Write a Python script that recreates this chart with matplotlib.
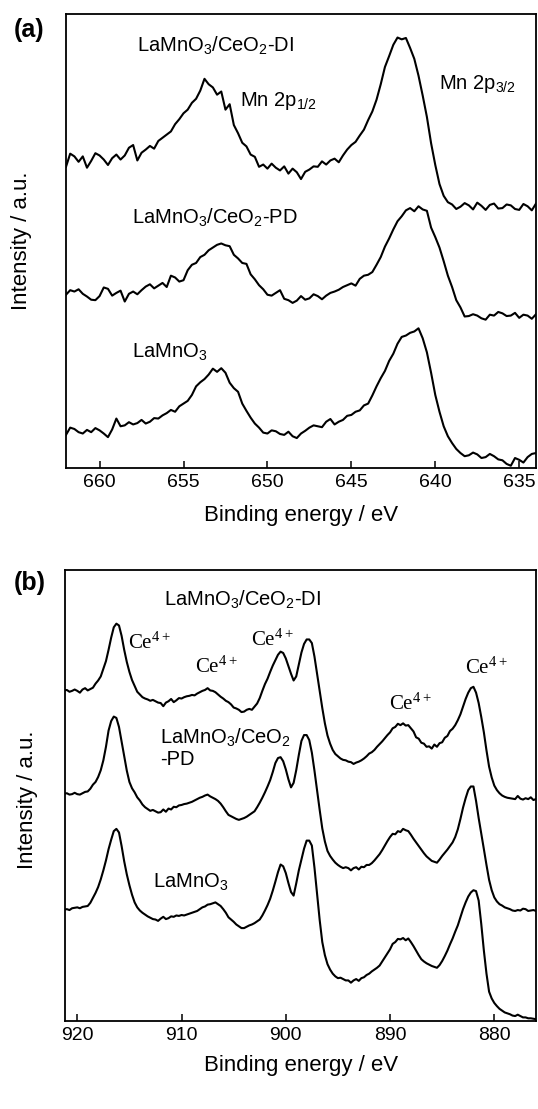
import numpy as np
import matplotlib
matplotlib.use("Agg")
import matplotlib.pyplot as plt

plt.rcParams['font.family'] = ['Liberation Sans', 'DejaVu Sans']

# ---- (a) Mn 2p region, 662 -> 634 eV, 0.25 eV step (one row = 2 eV) ----
mn_energy = np.arange(662.0, 633.99, -0.25)
mn_di = [66.4, 69.3, 68.7, 67.5, 68.7, 66.2, 67.7, 69.4,
         68.9, 68.0, 66.8, 68.3, 69.1, 68.0, 68.9, 70.6,
         71.2, 67.8, 69.5, 70.2, 71.0, 70.4, 72.1, 72.8,
         73.5, 74.2, 75.8, 76.9, 78.2, 79.0, 80.5, 81.4,
         83.2, 85.8, 84.6, 83.9, 82.3, 83.0, 79.0, 80.2,
         75.6, 73.8, 71.7, 70.9, 69.1, 68.6, 66.4, 66.9,
         66.0, 67.1, 66.2, 65.6, 66.5, 64.9, 66.0, 65.2,
         63.7, 65.3, 65.8, 66.5, 66.4, 67.6, 66.9, 67.8,
         68.2, 67.4, 68.9, 70.2, 71.2, 71.9, 73.3, 74.6,
         76.7, 78.6, 81.2, 84.6, 88.4, 90.8, 93.3, 94.9,
         94.5, 94.8, 92.6, 90.2, 86.5, 82.1, 77.4, 71.6,
         66.8, 62.6, 60.0, 58.6, 58.1, 57.1, 57.6, 58.4,
         57.9, 57.0, 58.5, 57.8, 56.9, 58.0, 58.3, 57.2,
         57.3, 58.1, 57.9, 57.1, 56.9, 58.2, 57.7, 56.8,
         58.3]
mn_pd = [38.2, 39.2, 38.9, 39.4, 38.4, 37.8, 37.1, 37.0,
         37.9, 39.8, 39.5, 38.0, 38.6, 39.1, 36.7, 38.4,
         38.9, 38.3, 39.2, 40.0, 40.5, 39.6, 40.2, 40.8,
         39.9, 42.4, 42.0, 41.1, 41.4, 43.6, 44.8, 45.2,
         46.5, 47.0, 48.0, 48.6, 49.2, 49.5, 49.1, 48.9,
         47.0, 46.2, 45.2, 45.0, 42.7, 41.6, 40.3, 39.4,
         38.2, 38.0, 38.6, 39.2, 37.3, 37.0, 36.4, 36.9,
         37.9, 37.1, 37.4, 38.3, 37.9, 37.2, 38.0, 38.6,
         38.9, 39.3, 39.9, 40.3, 40.7, 40.2, 41.7, 42.4,
         42.6, 43.2, 44.8, 46.5, 48.8, 50.6, 52.6, 54.4,
         55.5, 56.8, 57.3, 56.6, 57.7, 57.0, 56.7, 53.0,
         50.9, 48.6, 45.6, 42.4, 39.9, 37.0, 35.4, 33.4,
         33.5, 33.9, 33.6, 33.0, 32.7, 33.8, 33.6, 34.4,
         34.1, 33.5, 33.6, 34.2, 33.1, 33.8, 33.6, 32.9,
         33.9]
mn_lmo = [7.3, 8.9, 8.6, 7.9, 7.6, 8.4, 7.9, 8.8,
          8.3, 7.6, 6.8, 8.5, 10.9, 9.2, 9.4, 10.1,
          9.6, 9.9, 10.6, 9.8, 10.2, 11.0, 10.9, 11.6,
          12.1, 12.8, 12.4, 13.6, 14.2, 14.8, 16.1, 18.0,
          18.9, 19.6, 20.6, 21.9, 21.2, 22.0, 21.0, 18.8,
          17.6, 16.8, 14.2, 12.6, 11.1, 9.8, 8.9, 7.8,
          7.6, 8.3, 8.1, 7.5, 7.3, 8.0, 7.0, 6.6,
          7.6, 8.2, 8.9, 9.4, 9.2, 9.0, 10.2, 10.8,
          9.6, 10.2, 10.6, 11.5, 11.7, 12.4, 12.7, 13.8,
          14.2, 16.0, 18.0, 19.8, 21.4, 23.6, 25.2, 27.4,
          28.9, 29.2, 29.8, 30.1, 30.8, 28.6, 25.5, 21.0,
          16.1, 12.4, 9.2, 7.0, 5.5, 4.2, 3.3, 2.6,
          2.8, 3.4, 3.0, 2.2, 2.4, 3.1, 2.6, 1.9,
          1.7, 0.9, 0.5, 2.2, 1.8, 1.2, 2.4, 3.1,
          3.3]
mn_ticks = [660, 655, 650, 645, 640, 635]

# ---- (b) Ce 3d region, 921.25 -> 876 eV, 0.25 eV step ----
ce_energy = np.arange(921.25, 875.99, -0.25)
ce_di = [73.3, 73.4, 73.0, 73.2, 73.5,
         73.2, 72.8, 73.5, 73.8, 73.3, 73.6, 73.9, 74.8,
         75.5, 76.4, 78.1, 79.8, 82.3, 85.0, 87.3, 88.1,
         87.7, 85.4, 82.3, 79.6, 77.4, 75.6, 74.3, 73.0,
         72.4, 71.8, 71.5, 71.3, 71.0, 71.2, 70.9, 70.6,
         70.5, 69.8, 70.6, 70.9, 71.4, 70.7, 71.1, 71.6,
         71.5, 71.8, 72.0, 72.1, 72.3, 72.2, 72.6, 72.9,
         73.2, 73.4, 73.8, 73.3, 73.2, 72.9, 72.4, 71.9,
         71.5, 71.0, 70.7, 70.2, 69.5, 69.3, 69.0, 68.5,
         68.6, 69.0, 69.2, 69.0, 69.7, 70.4, 71.6, 73.2,
         74.7, 75.9, 77.4, 78.8, 80.0, 81.2, 81.9, 81.6,
         80.4, 78.7, 77.0, 75.5, 76.4, 79.0, 81.7, 83.6,
         84.6, 84.6, 83.8, 80.8, 77.0, 73.2, 69.4, 66.0,
         63.3, 61.5, 60.1, 59.2, 58.7, 58.2, 57.9, 57.8,
         57.5, 57.4, 57.0, 57.3, 57.5, 57.8, 58.2, 58.7,
         59.3, 59.6, 60.1, 60.8, 61.4, 62.0, 62.7, 63.4,
         64.0, 64.9, 65.2, 65.9, 65.6, 66.0, 65.5, 65.6,
         64.9, 64.2, 62.9, 62.6, 61.7, 61.5, 60.8, 60.9,
         60.4, 61.3, 60.8, 61.6, 61.8, 62.8, 63.2, 64.3,
         64.8, 65.6, 66.7, 68.0, 69.7, 71.4, 72.8, 73.8,
         74.1, 72.8, 70.5, 67.4, 64.0, 60.0, 56.4, 54.0,
         52.2, 51.2, 50.5, 50.0, 49.7, 49.5, 49.4, 49.3,
         49.2, 49.9, 49.3, 49.1, 49.4, 49.2, 49.6, 49.0,
         49.2]
ce_pd = [50.4, 50.5, 50.2, 50.3, 50.6,
         50.3, 50.2, 50.5, 50.8, 50.9, 51.5, 52.4, 53.0,
         54.1, 55.6, 57.8, 60.8, 64.4, 66.5, 67.5, 67.2,
         65.2, 62.0, 58.7, 55.5, 53.0, 51.6, 50.7, 49.6,
         48.9, 48.0, 47.4, 47.0, 46.6, 46.8, 46.5, 46.2,
         46.3, 46.9, 46.4, 47.1, 46.9, 47.5, 47.4, 47.8,
         47.9, 48.1, 48.2, 48.4, 48.6, 48.9, 49.2, 49.5,
         49.7, 50.0, 50.2, 49.8, 49.5, 49.2, 48.8, 48.2,
         47.4, 46.5, 45.7, 45.4, 45.1, 44.8, 44.6, 44.8,
         45.0, 45.3, 45.7, 46.1, 46.5, 47.4, 48.4, 49.5,
         50.7, 52.0, 53.4, 55.2, 57.2, 58.3, 58.5, 57.6,
         55.8, 53.6, 51.8, 52.8, 55.6, 59.0, 62.1, 63.4,
         63.4, 62.3, 59.5, 55.5, 51.1, 46.8, 42.7, 39.8,
         37.7, 36.6, 35.8, 35.1, 34.6, 34.2, 33.9, 34.1,
         33.9, 33.4, 33.9, 34.1, 33.6, 34.2, 34.1, 34.6,
         34.6, 35.0, 35.6, 36.3, 37.0, 37.9, 38.9, 39.9,
         40.8, 41.5, 41.4, 42.1, 41.9, 42.6, 42.3, 42.1,
         41.3, 40.4, 39.6, 38.8, 38.0, 37.2, 36.5, 36.0,
         35.5, 35.3, 35.1, 35.8, 36.6, 37.3, 38.0, 38.8,
         39.6, 40.8, 42.5, 44.8, 47.3, 49.4, 51.2, 52.0,
         52.0, 48.8, 45.0, 41.6, 38.1, 34.6, 31.3, 29.0,
         27.4, 26.5, 25.9, 25.6, 25.2, 25.0, 24.8, 24.5,
         24.4, 24.6, 24.5, 24.9, 24.8, 24.4, 24.5, 24.6,
         24.4]
ce_lmo = [24.7, 24.8, 24.6, 25.0, 25.1,
          25.2, 25.0, 25.3, 25.4, 25.5, 26.2, 27.3, 28.4,
          29.7, 31.4, 33.4, 35.6, 38.1, 40.2, 42.1, 42.6,
          41.8, 38.8, 35.4, 32.5, 30.1, 28.0, 26.3, 25.2,
          24.5, 24.0, 23.6, 23.2, 22.9, 22.6, 22.5, 22.2,
          22.7, 23.1, 22.6, 22.8, 23.2, 23.1, 23.4, 23.3,
          23.5, 23.4, 23.6, 23.8, 24.0, 24.2, 24.4, 24.8,
          25.2, 25.4, 25.8, 25.9, 26.1, 26.3, 25.9, 25.5,
          24.8, 24.0, 23.0, 22.5, 22.0, 21.4, 21.0, 20.6,
          20.6, 20.9, 21.2, 21.4, 21.7, 22.1, 22.5, 23.4,
          24.5, 25.7, 27.1, 28.9, 30.9, 33.0, 34.7, 34.3,
          32.8, 30.6, 28.6, 27.8, 30.5, 33.4, 35.8, 38.2,
          40.0, 40.0, 38.9, 34.0, 28.2, 22.4, 17.5, 14.6,
          12.6, 11.4, 10.5, 9.9, 9.5, 9.6, 9.3, 9.0,
          9.0, 8.5, 9.0, 9.3, 8.9, 9.5, 9.7, 10.2,
          10.5, 11.0, 11.4, 11.8, 12.3, 13.2, 14.1, 15.0,
          15.9, 17.1, 17.5, 18.2, 18.1, 18.4, 17.9, 18.3,
          17.5, 16.6, 15.6, 14.6, 13.7, 13.2, 12.8, 12.5,
          12.2, 12.0, 11.8, 12.4, 13.3, 14.4, 15.6, 17.0,
          18.3, 19.8, 21.2, 23.0, 24.8, 26.3, 27.6, 28.5,
          29.0, 28.8, 26.7, 21.5, 15.6, 10.5, 6.5, 5.0,
          4.0, 3.3, 2.7, 2.3, 1.9, 1.7, 1.5, 1.2,
          1.1, 1.4, 1.1, 0.8, 0.8, 0.6, 0.6, 0.5,
          0.4]
ce_ticks = [920, 910, 900, 890, 880]

W, H = 538, 1109
fig = plt.figure(figsize=(W / 100, H / 100), dpi=100)

def px_axes(l, t, r, b):
    return fig.add_axes([l / W, 1 - b / H, (r - l) / W, (b - t) / H])

ax1 = px_axes(66, 14.4, 536, 468)
ax2 = px_axes(65.3, 570, 536, 1021)

for ax in (ax1, ax2):
    for s in ax.spines.values():
        s.set_linewidth(1.3)
    ax.tick_params(axis='x', direction='in', length=5, width=1.1, labelsize=14, pad=4, top=False)
    ax.tick_params(axis='y', left=False, labelleft=False)
    ax.set_ylim(0, 100)

for series in (mn_di, mn_pd, mn_lmo):
    ax1.plot(mn_energy, series, color='black', lw=1.5)
ax1.set_xlim(662, 634)
ax1.set_xticks(mn_ticks)

for series in (ce_di, ce_pd, ce_lmo):
    ax2.plot(ce_energy, series, color='black', lw=1.5)
ax2.set_xlim(921.15, 876)
ax2.set_xticks(ce_ticks)

lab = dict(fontsize=14.5, ha='left', va='center')
ax1.text(657.76, 93.0, r'LaMnO$\mathregular{_3}$/CeO$\mathregular{_2}$-DI', **lab)
ax1.text(651.66, 80.9, r'Mn 2p$\mathregular{_{1/2}}$', **lab)
ax1.text(639.77, 84.7, r'Mn 2p$\mathregular{_{3/2}}$', **lab)
ax1.text(658.05, 55.1, r'LaMnO$\mathregular{_3}$/CeO$\mathregular{_2}$-PD', **lab)
ax1.text(658.05, 25.6, r'LaMnO$\mathregular{_3}$', **lab)

ax2.text(911.7, 93.3, r'LaMnO$\mathregular{_3}$/CeO$\mathregular{_2}$-DI', **lab)
ax2.text(912.1, 62.7, r'LaMnO$\mathregular{_3}$/CeO$\mathregular{_2}$', **lab)
ax2.text(912.1, 57.9, '-PD', **lab)
ax2.text(912.7, 30.8, r'LaMnO$\mathregular{_3}$', **lab)

ce_labels = [(915.1, 83.8), (908.7, 78.5), (903.36, 84.5), (890.1, 70.3), (882.77, 78.3)]
for ex, ey in ce_labels:
    ax2.text(ex, ey, r'Ce$\mathregular{^{4+}}$', family='Liberation Serif',
             fontsize=15, ha='left', va='center')

fig.text(14 / W, 1 - 30 / H, '(a)', fontsize=18, fontweight='bold', ha='left', va='center')
fig.text(14 / W, 1 - 583 / H, '(b)', fontsize=18, fontweight='bold', ha='left', va='center')

fig.text(22 / W, 1 - 241 / H, 'Intensity / a.u.', fontsize=16, rotation=90, ha='center', va='center')
fig.text(27.5 / W, 1 - 800 / H, 'Intensity / a.u.', fontsize=16, rotation=90, ha='center', va='center')
fig.text(301 / W, 1 - 515 / H, 'Binding energy / eV', fontsize=16, ha='center', va='center')
fig.text(301 / W, 1 - 1066 / H, 'Binding energy / eV', fontsize=16, ha='center', va='center')

fig.savefig('out.png', dpi=100)
